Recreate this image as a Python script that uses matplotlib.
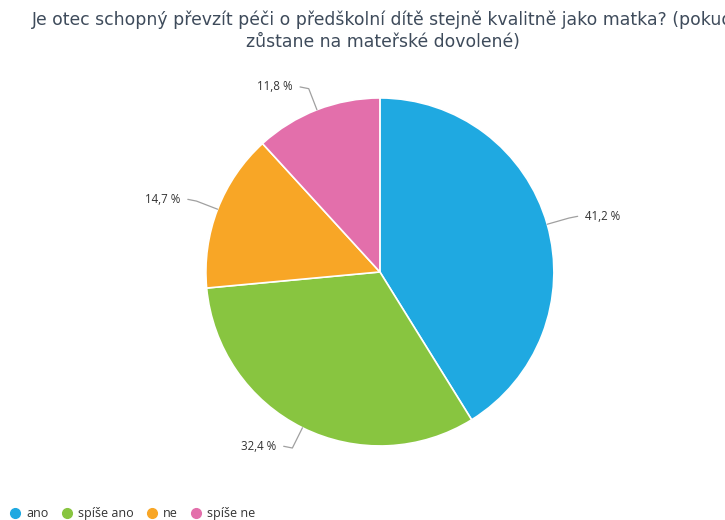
import matplotlib
matplotlib.use("Agg")
import matplotlib.pyplot as plt
from matplotlib.lines import Line2D
import numpy as np

title = "Je otec schopný převzít péči o předškolní dítě stejně kvalitně jako matka? (pokud\nzůstane na mateřské dovolené)"
categories = ["ano", "spíše ano", "ne", "spíše ne"]
values = [41.2, 32.4, 14.7, 11.8]
labels = ["41,2 %", "32,4 %", "14,7 %", "11,8 %"]
colors = ["#1fa9e1", "#88c540", "#f8a626", "#e36fab"]

fig = plt.figure(figsize=(7.25, 5.2), dpi=100)
fig.text(0.528, 0.98, title, ha="center", va="top", fontsize=12.4,
         color="#3e4b5b", family="DejaVu Sans", linespacing=1.3)

ax = fig.add_axes([0.524 - 0.24, 0.477 - 0.3346, 0.48, 0.6692])
wedges, _ = ax.pie(values, colors=colors, startangle=90, counterclock=False,
                   wedgeprops=dict(edgecolor="white", linewidth=1.2))
ax.set_xlim(-1, 1)
ax.set_ylim(-1, 1)
ax.set_aspect("equal")
ax.axis("off")

for w, lab in zip(wedges, labels):
    ang = np.deg2rad((w.theta1 + w.theta2) / 2)
    c, s = np.cos(ang), np.sin(ang)
    side = 1 if c >= 0 else -1
    p0 = (c, s)
    p1 = (1.13 * c, 1.13 * s)
    p2 = (1.13 * c + side * 0.05, 1.13 * s + 0.01)
    ax.plot([p0[0], p1[0], p2[0]], [p0[1], p1[1], p2[1]], color="#a0a0a0",
            lw=0.9, clip_on=False, solid_capstyle="round")
    ax.text(p2[0] + side * 0.04, p2[1], lab, ha="left" if side > 0 else "right",
            va="center", fontsize=8.3, color="#333333", family="Open Sans",
            clip_on=False)

handles = [Line2D([0], [0], marker="o", color="none", markerfacecolor=col,
                  markeredgecolor=col, markersize=7) for col in colors]
leg = fig.legend(handles, categories, loc="lower left", bbox_to_anchor=(-0.004, -0.022),
                 ncol=4, frameon=False, handletextpad=0.35, columnspacing=0.9,
                 handlelength=1.1, prop={"family": "Open Sans", "size": 9})
for t in leg.get_texts():
    t.set_color("#333333")

fig.savefig("out.png", dpi=100)
